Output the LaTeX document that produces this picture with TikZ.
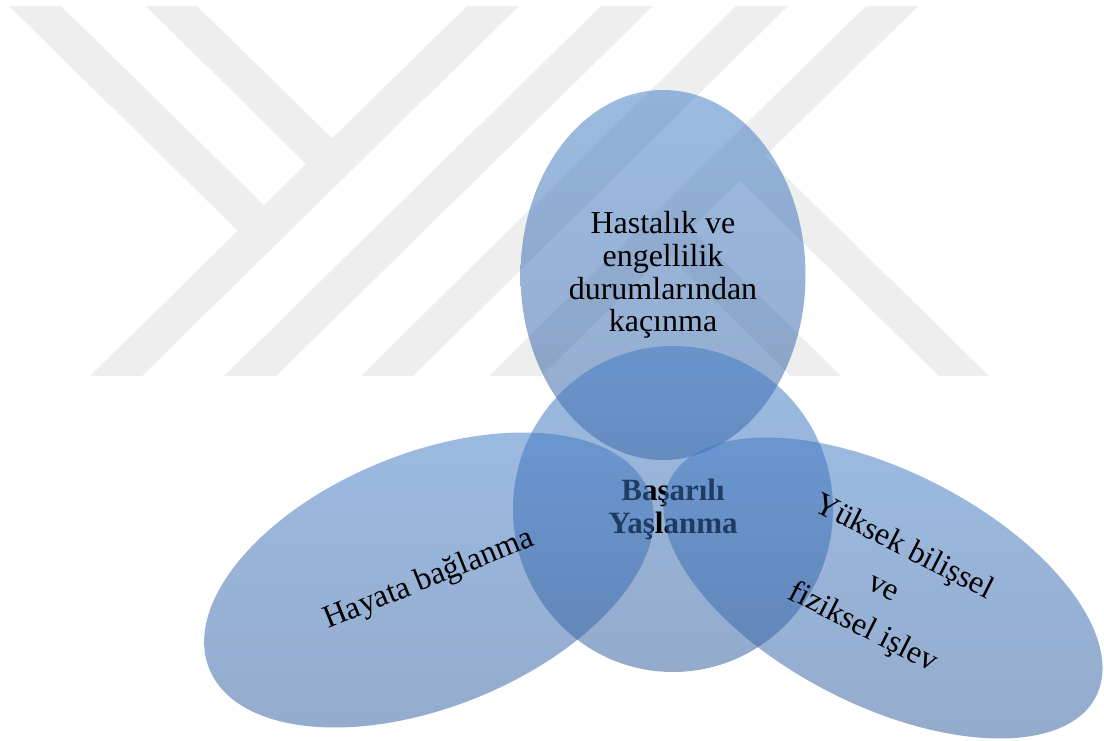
\documentclass[tikz,border=0pt]{standalone}
\usepackage{fontspec}
\setmainfont{Liberation Serif}
\usetikzlibrary{shapes.geometric}

\definecolor{wmgray}{RGB}{238,238,238}
\definecolor{venntop}{RGB}{65,124,199}
\definecolor{vennbot}{RGB}{49,93,155}

\tikzset{
  wmstripe/.style={fill=wmgray},
  vennpart/.style={ellipse, inner sep=0pt, top color=venntop, bottom color=vennbot,
    fill opacity=.52, text opacity=1, align=center, font=\fontsize{16}{16.3}\selectfont}
}

\begin{document}
\begin{tikzpicture}[x=.5pt,y=-.5pt]

      \useasboundingbox (0,0) rectangle (1104,740);

      % watermark
      \begin{scope}
        \foreach \b/\t in {90/467,224/601,361/736,489/866}
          \fill[wmstripe] (\b,376) -- (\b+52,376) -- (\t+52,6) -- (\t,6) -- cycle;
        \fill[wmstripe] (9,6) -- (61,6) -- (268,209) -- (242,235) -- cycle;
        \fill[wmstripe] (146,6) -- (197,6) -- (336,142) -- (310,168) -- cycle;
        \fill[wmstripe] (939,376) -- (989,376) -- (761,152) -- (736,177) -- cycle;
        \fill[wmstripe] (791,376) -- (841,376) -- (687,225) -- (662,249) -- cycle;
      \end{scope}

      \begin{scope}
        \node[vennpart, minimum width=142.5pt, minimum height=185pt] (saglik) at (663,275)
          {Hastalık ve\\engellilik\\durumlarından\\kaçınma};
        \node[vennpart, minimum width=160pt, minimum height=163pt,
          font=\bfseries\fontsize{15.5}{16.5}\selectfont] (basari) at (673,509)
          {Başarılı\\Yaşlanma};
        \node[vennpart, rotate=22, minimum width=237pt, minimum height=127pt] (hayat) at (429,580)
          {Hayata bağlanma};
        \node[vennpart, rotate=-27, minimum width=239pt, minimum height=117pt,
          font=\fontsize{16}{22.5}\selectfont] (islev) at (883,588)
          {Yüksek bilişsel\\ve\\fiziksel işlev};
      \end{scope}

    \end{tikzpicture}
\end{document}
